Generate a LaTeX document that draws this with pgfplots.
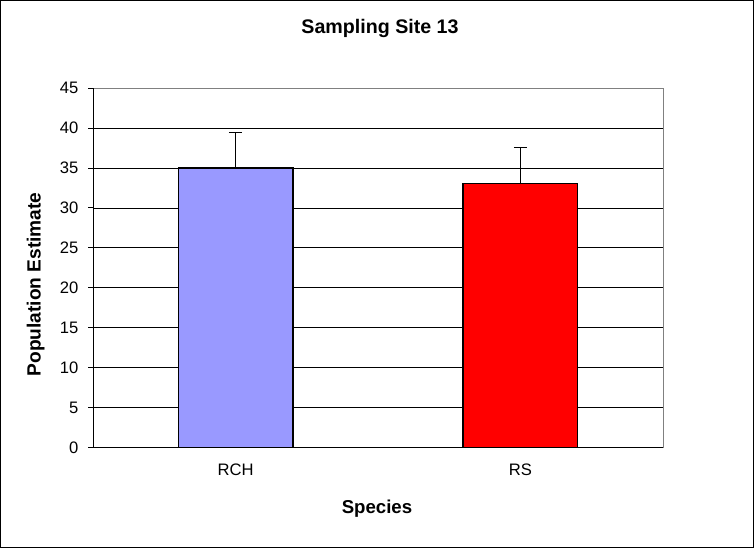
\documentclass[border=0pt]{standalone}
\usepackage{pgfplots}
\pgfplotsset{compat=1.18}
\usepackage{fontspec}
\setmainfont{Liberation Sans}
\definecolor{rch}{HTML}{9999FF}
\definecolor{rs}{HTML}{FF0000}
\begin{document}
\begin{tikzpicture}
\fontsize{16bp}{19bp}\selectfont
\begin{axis}[
  at={(0,0)}, anchor=south west,
  scale only axis,
  width=566bp, height=357bp,
  xmin=-0.5, xmax=1.5,
  ymin=0, ymax=45,
  ytick={0,5,...,45},
  xtick={0,1},
  xticklabels={RCH,RS},
  xtick pos=bottom, ytick pos=left,
  x tick style={draw=none},
  extra x ticks={-0.5,0.5,1.5},
  extra x tick labels={},
  extra x tick style={grid=none, major tick length=5bp, tick style={draw=black, line width=0.8bp}},
  tick align=outside,
  major tick length=5bp,
  y tick style={draw=black, line width=0.8bp},
  ymajorgrids,
  grid style={black, line width=0.6bp},
  axis line style={draw=gray, line width=0.8bp},
  tick label style={font=\fontsize{16.5bp}{19bp}\selectfont},
  /pgf/number format/assume math mode=true,
  xticklabel style={yshift=-6bp},
  yticklabel style={xshift=-4bp},
  clip=false,
]
\addplot[ybar, bar shift=0pt, bar width=0.403, fill=rch, draw=black, line width=1.2bp,
  error bars/.cd, y dir=plus, y explicit,
  error bar style={black, line width=1bp},
  error mark options={rotate=90, mark size=6.5bp, line width=1bp, black}]
  coordinates {(0,35) +- (0,4.4)};
\addplot[ybar, bar shift=0pt, bar width=0.403, fill=rs, draw=black, line width=1.2bp,
  error bars/.cd, y dir=plus, y explicit,
  error bar style={black, line width=1bp},
  error mark options={rotate=90, mark size=6.5bp, line width=1bp, black}]
  coordinates {(1,33) +- (0,4.5)};
\draw[black, line width=0.9bp] (rel axis cs:0,1) -- (rel axis cs:0,0) -- (rel axis cs:1,0);
\end{axis}
\draw[black, line width=0.9bp] (-92bp,-99bp) rectangle (656bp,444bp);
\node[font=\bfseries\fontsize{19.5bp}{23bp}\selectfont] at (285bp,416bp) {Sampling Site 13};
\node[font=\bfseries\fontsize{18.5bp}{22bp}\selectfont] at (282bp,-61bp) {Species};
\node[font=\bfseries\fontsize{19bp}{22bp}\selectfont, rotate=90] at (-57bp,162bp) {Population Estimate};
\end{tikzpicture}
\end{document}
